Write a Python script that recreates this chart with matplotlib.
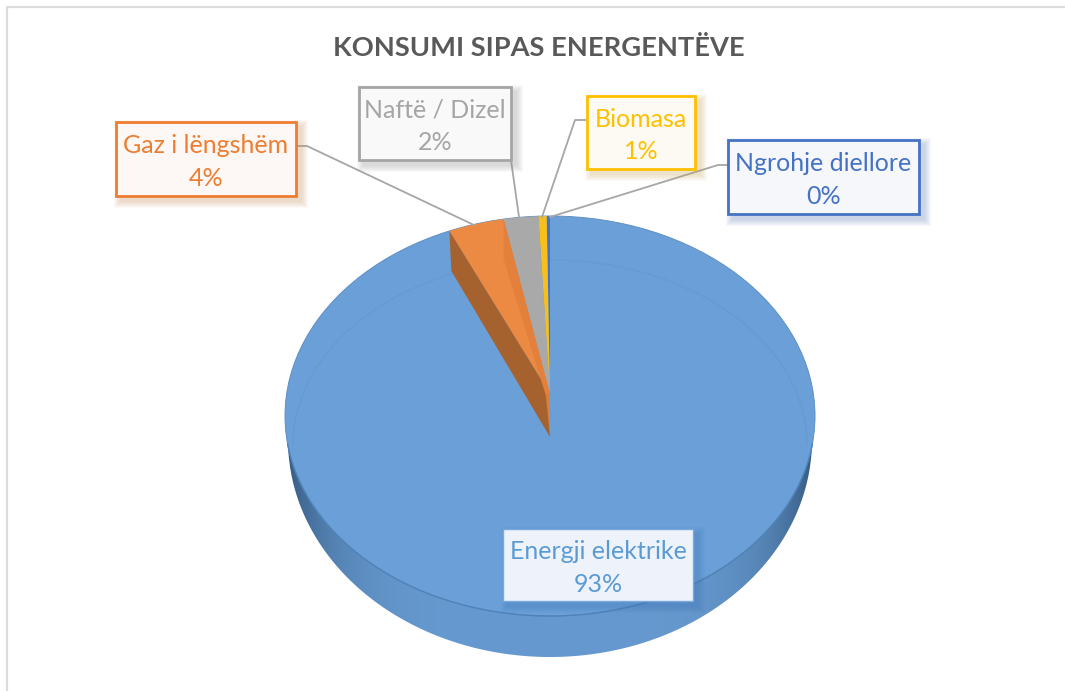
import numpy as np
import matplotlib
matplotlib.use('Agg')
import matplotlib.pyplot as plt
from matplotlib.patches import Polygon, Rectangle, Ellipse

plt.rcParams['font.family'] = ['Lato', 'DejaVu Sans']

title = 'KONSUMI SIPAS ENERGENTËVE'
categories = ['Energji elektrike', 'Gaz i lëngshëm', 'Naftë / Dizel', 'Biomasa', 'Ngrohje diellore']
shares = [93.8, 3.4, 2.1, 0.5, 0.2]
labels = ['93%', '4%', '2%', '1%', '0%']

# pie geometry in pixels
cx, cy = 550, 416
rx, ry = 265, 200
depth = 40
apex = (550, 394)

fig = plt.figure(figsize=(10.65, 6.91), dpi=100)
ax = fig.add_axes([0, 0, 1, 1])
ax.axis('off')


def rim(a):
    # a in degrees, counted anticlockwise from the top
    t = np.radians(a)
    return cx - rx * np.sin(t), cy - ry * np.cos(t)


def box(x0, y0, x1, y1, edge, fill, shadow, lw=2.0):
    for i in range(7, 0, -1):
        ax.add_patch(Rectangle((x0 + 5 - i, y0 + 5 - i), x1 - x0 + 2 * i, y1 - y0 + 2 * i, fc=shadow,
                               ec='none', alpha=0.05, zorder=6))
    ax.add_patch(Rectangle((x0, y0), x1 - x0, y1 - y0, fc=fill, ec=edge, lw=lw, zorder=7))


# chart frame
ax.plot([7, 7, 1065], [691, 7, 7], color='#dcdcdc', lw=1.6, zorder=0)

# side wall of the pie, the lower rim is a little narrower than the top face
xs = np.linspace(cx - rx, cx + rx, 400)
upper = cy + ry * np.sqrt(np.clip(1 - ((xs - cx) / rx) ** 2, 0, 1))
lower = 440 + 217 * np.sqrt(np.clip(1 - ((xs - cx) / 262) ** 2, 0, 1))
lower = np.where(np.abs(xs - cx) < 262, np.maximum(lower, upper), upper)
wall = np.column_stack([np.r_[xs, xs[::-1]], np.r_[upper, lower[::-1]]])
wall_patch = Polygon(wall, closed=True, fc='none', ec='none', zorder=1)
ax.add_patch(wall_patch)
shade = np.abs(np.linspace(-1, 1, 400)) ** 5
colour_a = np.array(matplotlib.colors.to_rgb('#6699cf'))
colour_b = np.array(matplotlib.colors.to_rgb('#34597f'))
strip = colour_a + (colour_b - colour_a) * shade[:, None]
im = ax.imshow(strip[None, :, :], extent=[cx - rx, cx + rx, cy + ry + depth + 5, cy], aspect='auto', zorder=1)
im.set_clip_path(wall_patch)

# top face
ax.add_patch(Ellipse((cx, cy), 2 * rx, 2 * ry, fc='#6a9fd8', ec='#5f90c4', lw=0.7, zorder=2))
bevel = np.linspace(-90, 90, 200)
ax.plot(cx + 257 * np.sin(np.radians(bevel)), 445 - 185 * np.cos(np.radians(bevel)),
        color='#659ad2', lw=1, zorder=2)
front = np.linspace(-82, 82, 200)
ax.plot(cx + rx * np.sin(np.radians(front)), cy + ry * np.cos(np.radians(front)),
        color='#4f82b8', lw=1, zorder=3)

# small slices, walking anticlockwise from the top
slice_colours = {'Ngrohje diellore': '#4472c4', 'Biomasa': '#f6bf1c', 'Naftë / Dizel': '#a9a9a9',
                 'Gaz i lëngshëm': '#ec8a44'}
start = 0.0
edges = {}
for name in categories[:0:-1]:
    i = categories.index(name)
    end = start + shares[i] / sum(shares) * 360
    arc = np.linspace(start, end, 20)
    px, py = rim(arc)
    pts = np.column_stack([np.r_[apex[0], px], np.r_[apex[1], py]])
    ax.add_patch(Polygon(pts, closed=True, fc=slice_colours[name], ec='none', zorder=4))
    edges[name] = (start, end)
    start = end

# inner walls of the gas slice
lx, ly = rim(edges['Gaz i lëngshëm'][1])
ax.add_patch(Polygon([(lx, ly), (lx + 2, ly + depth), (apex[0], apex[1] + 43), apex],
                     closed=True, fc='#a5622f', ec='none', zorder=5))
gx, gy = rim(edges['Gaz i lëngshëm'][0])
ax.add_patch(Polygon([(gx, gy), (gx, gy + depth), (apex[0] - 4, apex[1] + 2), apex],
                     closed=True, fc='#e2803c', ec='none', zorder=5))
ax.add_patch(Polygon([(apex[0] - 4, apex[1] + 2), apex, (apex[0], apex[1] + 43)],
                     closed=True, fc='#d9803f', ec='none', zorder=5))

# leader lines
lead = '#a6a6a6'
ax.plot([297, 307, 474], [146, 146, 225], color=lead, lw=1.3, zorder=5)
ax.plot([511, 519], [160, 217], color=lead, lw=1.3, zorder=5)
ax.plot([587, 575, 542], [120, 120, 217], color=lead, lw=1.3, zorder=5)
ax.plot([728, 718, 550], [165, 165, 217], color=lead, lw=1.3, zorder=5)

# data labels
boxes = {
    'Energji elektrike': (503, 529, 693, 601, '#7aaade', '#eef3fb', '#5b9bd5', '#3f78b5', 1.0),
    'Gaz i lëngshëm': (116, 122, 296, 196, '#ed7d31', '#fdf8f5', '#ed7d31', '#c9915f', 2.0),
    'Naftë / Dizel': (359, 87, 511, 160, '#a5a5a5', '#f9f9f9', '#a5a5a5', '#909090', 2.0),
    'Biomasa': (587, 96, 695, 169, '#ffc000', '#fdfaf3', '#ffc000', '#c9a95f', 2.0),
    'Ngrohje diellore': (728, 140, 919, 214, '#4472c4', '#f5f7fb', '#4472c4', '#5f7fb5', 2.0),
}
for name, lab in zip(categories, labels):
    x0, y0, x1, y1, edge, fill, tc, sh, lw = boxes[name]
    box(x0, y0, x1, y1, edge, fill, sh, lw)
    ax.text((x0 + x1) / 2, (y0 + y1) / 2 + 3, name + '\n' + lab, color=tc, fontsize=18,
            ha='center', va='center', linespacing=1.5, zorder=8)

ax.text(539, 48, title, color='#595959', fontsize=19.6, fontweight='bold', ha='center', va='center', zorder=8)

ax.set_xlim(0, 1065)
ax.set_ylim(691, 0)
fig.savefig('out.png', dpi=100, facecolor='white')
